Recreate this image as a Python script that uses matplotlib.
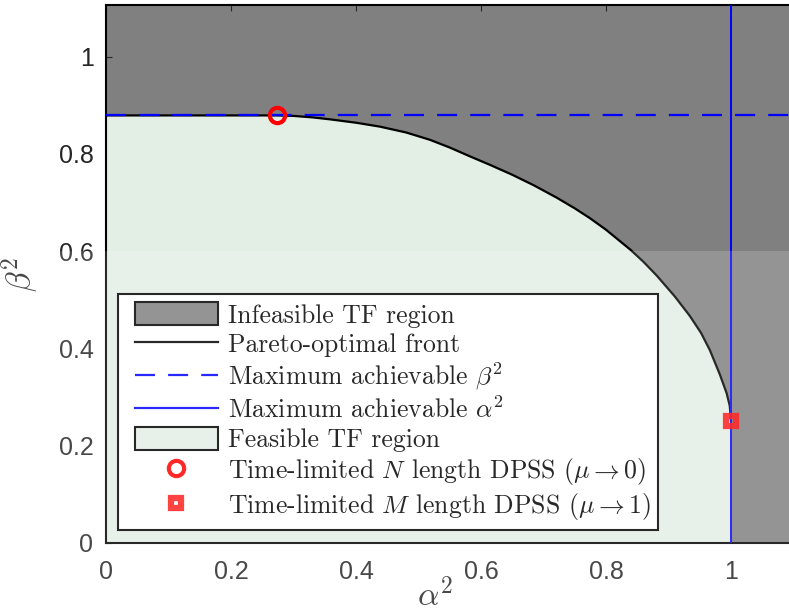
import matplotlib
matplotlib.use("Agg")
import matplotlib.pyplot as plt
from matplotlib.patches import Patch, Rectangle
from matplotlib.lines import Line2D
from matplotlib.legend_handler import HandlerPatch, HandlerLine2D

plt.rcParams['mathtext.fontset'] = 'cm'
plt.rcParams['axes.unicode_minus'] = False

# ---- data ----
front_alpha2 = [0.273, 0.300, 0.330, 0.358, 0.400, 0.438, 0.480, 0.518, 0.550, 0.582,
                0.615, 0.650, 0.685, 0.721, 0.750, 0.774, 0.800, 0.839, 0.860, 0.881,
                0.910, 0.934, 0.952, 0.966, 0.982, 0.993, 0.998, 1.000]
front_beta2 = [0.879, 0.878, 0.875, 0.871, 0.864, 0.856, 0.844, 0.829, 0.813, 0.795,
               0.777, 0.757, 0.735, 0.710, 0.688, 0.668, 0.644, 0.603, 0.578, 0.550,
               0.507, 0.467, 0.432, 0.397, 0.347, 0.308, 0.282, 0.250]
max_beta2 = 0.879
max_alpha2 = 1.0
dpss_N = (0.273, 0.879)
dpss_M = (1.0, 0.250)

xticks = [0, 0.2, 0.4, 0.6, 0.8, 1]
yticks = [0, 0.2, 0.4, 0.6, 0.8, 1]
xticklabels = ['0', '0.2', '0.4', '0.6', '0.8', '1']
yticklabels = ['0', '0.2', '0.4', '0.6', '0.8', '1']

legend_labels = [
    'Infeasible TF region',
    'Pareto-optimal front',
    r'Maximum achievable $\beta^2$',
    r'Maximum achievable $\alpha^2$',
    'Feasible TF region',
    r'Time-limited $N$ length DPSS ($\mu \rightarrow 0$)',
    r'Time-limited $M$ length DPSS ($\mu \rightarrow 1$)',
]

grey = '#808080'
green = '#e3eee5'
blue = '#0000ff'
red = '#ff0000'

fig = plt.figure(figsize=(7.89, 6.16), dpi=100)
ax = fig.add_axes([106/789, 73/616, 687.5/789, 538/616])
xlim = (0, 1.1)
ylim = (0, 1.106)
ax.set_xlim(*xlim)
ax.set_ylim(*ylim)

# infeasible (whole background)
ax.fill_between(list(xlim), ylim[0], ylim[1], color=grey, lw=0, zorder=1)

# feasible region
fx = [0.0] + front_alpha2
fy = [max_beta2] + front_beta2
ax.fill_between(fx, 0, fy, color=green, lw=0, zorder=2)

ax.plot(fx, fy, color='black', lw=1.6, zorder=4, solid_joinstyle='round')
ax.axhline(max_beta2, color=blue, lw=1.6, ls=(0, (9.0, 5.9)), zorder=5)
ax.axvline(max_alpha2, color=blue, lw=1.4, zorder=5)
ax.plot([dpss_N[0]], [dpss_N[1]], 'o', ms=11, mfc='none', mec=red, mew=3.0, zorder=6)
ax.plot([dpss_M[0]], [dpss_M[1]], 's', ms=7, mfc='none', mec=red, mew=4.5, alpha=0.88, zorder=6)

ax.set_xticks(xticks)
ax.set_xticklabels(xticklabels)
ax.set_yticks(yticks)
ax.set_yticklabels(yticklabels)
ax.tick_params(direction='in', top=True, right=False, length=4, width=0.8,
               labelsize=18, labelcolor='#262626', colors='#262626')
ax.tick_params(axis='x', pad=12)
ax.tick_params(axis='y', pad=9)
for lab in ax.get_xticklabels() + ax.get_yticklabels():
    lab.set_family('Liberation Sans')
for s in ['top', 'bottom', 'left']:
    ax.spines[s].set_linewidth(1.5)
    ax.spines[s].set_color('black')
ax.spines['right'].set_visible(False)

ax.set_xlabel(r'$\alpha^2$', fontsize=24, color='#262626')
ax.set_ylabel(r'$\beta^2$', fontsize=24, color='#262626')
ax.xaxis.set_label_coords(0.4785, -0.066)
ax.yaxis.set_label_coords(-0.093, 0.5)

handles = [
    Patch(facecolor=grey, edgecolor='black', lw=1.5),
    Line2D([], [], color='black', lw=1.6),
    Line2D([], [], color=blue, lw=1.6, ls=(0, (9.0, 5.9))),
    Line2D([], [], color=blue, lw=1.6),
    Patch(facecolor=green, edgecolor='black', lw=1.5),
    Line2D([], [], ls='none', marker='o', ms=11, mfc='none', mec=red, mew=3.0),
    Line2D([], [], ls='none', marker='s', ms=7, mfc='none', mec=red, mew=4.5, alpha=0.88),
]
hpad = 0.36
leg = ax.legend(handles, legend_labels, loc='lower left',
                bbox_to_anchor=(0.0175, 0.024), borderaxespad=0,
                prop={'family': 'cmr10', 'size': 18.5}, handlelength=3.59,
                handleheight=1.0, handletextpad=0.39, labelspacing=0.16,
                borderpad=0.3, fancybox=False, framealpha=1, edgecolor='black',
                handler_map={Patch: HandlerPatch(xpad=hpad),
                             Line2D: HandlerLine2D(xpad=hpad)})
leg.get_frame().set_linewidth(1.5)
leg.set_zorder(10)

# lighter band over the lower part of the picture (as in the reference)
fig.patches.append(Rectangle((0, 0), 1, (616 - 251) / 616, transform=fig.transFigure,
                             facecolor='white', alpha=0.16, lw=0, zorder=100))

fig.savefig('out.png', dpi=100)
